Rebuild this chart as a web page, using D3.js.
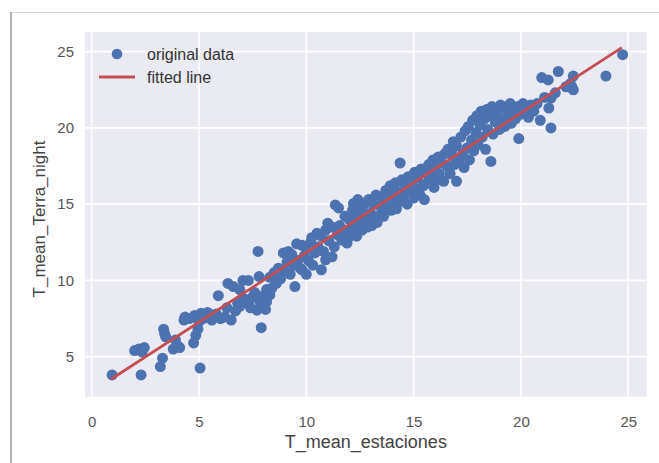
<!DOCTYPE html>
<html><head><meta charset="utf-8">
<script src="https://cdn.jsdelivr.net/npm/d3@7/dist/d3.min.js"></script>
<style>html,body{margin:0;padding:0;background:#fff;}svg{display:block;font-family:"Liberation Sans",Arial,sans-serif;}</style>
</head><body><svg id="c" width="659" height="463"></svg>
<script>
// ---- data ----
const xTicks = [0, 5, 10, 15, 20, 25];
const yTicks = [5, 10, 15, 20, 25];
const xLabel = "T_mean_estaciones";
const yLabel = "T_mean_Terra_night";
const legendLabels = ["original data", "fitted line"];
const fitX = [0.9, 24.7];
const fitY = [3.52, 25.27];
const ptsX = [
0.95,2.3,2.0,2.2,2.45,2.35,3.2,3.3,3.35,3.4,3.45,3.8,4.0,3.9,4.1,4.35,4.55,4.8,5.1,4.3,4.85,4.75,4.95,5.05,5.0,5.3,5.4,5.2,
5.6,5.9,6.0,6.2,6.5,6.35,6.6,6.9,6.8,7.05,6.9,7.3,7.5,7.8,8.0,8.15,7.7,7.3,7.8,7.75,7.9,8.15,8.3,8.1,7.1,7.6,6.3,6.7,5.8,8.4,8.5,8.3,7.4,8.0,
8.5,8.6,8.7,8.8,8.93,9.0,9.1,9.16,9.25,9.32,9.4,9.47,9.55,9.6,9.7,9.8,9.8,9.9,10.0,10.0,10.1,10.2,10.25,10.3,10.4,10.5,10.55,10.7,10.7,10.8,10.9,10.9,11.0,11.05,11.2,11.2,11.3,11.35,11.45,11.5,11.65,11.9,12.2,12.4,
11.55,11.7,11.8,11.9,12.0,12.05,12.15,12.2,12.3,12.35,12.45,12.5,
12.6,12.65,12.7,12.8,12.85,12.9,13.0,13.05,13.1,13.2,13.25,13.3,13.4,13.45,
13.55,13.6,13.7,13.75,13.8,13.9,13.95,14.0,14.1,14.15,14.2,14.3,14.37,14.4,14.45,
14.55,14.6,14.7,14.75,14.8,14.9,15.0,15.05,15.1,15.2,15.3,15.35,15.45,15.5,
15.6,15.65,15.7,15.8,15.9,15.95,16.0,16.1,16.15,16.2,16.3,16.4,16.45,
16.55,16.6,16.7,16.8,16.85,16.9,17.0,17.0,17.1,17.2,17.3,17.35,17.4,17.5,17.55,17.6,17.7,17.75,17.8,17.9,17.95,18.0,18.1,18.15,18.2,18.3,18.35,18.4,18.45,18.6,
18.55,18.65,18.7,18.8,18.9,19.0,19.05,19.15,19.25,19.3,19.4,19.5,19.55,19.65,19.75,19.9,19.85,20.0,20.1,20.2,20.35,20.45,20.6,20.75,20.9,
20.97,21.27,21.1,21.3,21.4,21.4,21.74,21.6,22.1,22.37,22.44,22.44,22.3,23.96,24.74
];
const ptsY = [
3.8,3.8,5.4,5.5,5.6,5.3,4.35,4.9,6.8,6.5,6.3,5.5,5.7,6.1,5.6,7.6,7.5,7.7,7.85,7.4,6.4,5.9,6.8,4.25,7.3,7.7,7.9,7.5,
7.4,9.0,7.5,7.6,7.4,9.8,9.6,9.4,8.5,10.0,8.3,8.5,8.9,8.7,8.3,8.6,8.05,10.0,10.25,11.9,6.9,9.4,9.05,8.1,8.8,9.2,8.2,8.0,7.8,9.5,10.5,10.2,8.2,9.0,
10.5,9.8,10.8,10.1,11.8,10.6,11.2,11.9,10.4,11.7,11.0,9.6,12.4,11.3,10.8,12.3,10.7,11.6,10.4,12.0,11.3,12.5,12.8,11.0,11.8,13.1,12.2,12.9,10.7,11.9,11.35,13.3,13.75,12.6,11.55,13.5,12.2,14.95,13.0,14.75,12.65,12.45,15.05,15.3,
13.6,12.9,14.2,13.3,14.0,12.9,14.6,13.5,14.2,12.9,14.9,13.8,
13.3,14.5,15.0,14.0,13.5,15.3,14.4,13.6,15.0,14.2,15.6,13.8,14.9,14.3,
15.4,14.2,15.9,14.8,15.3,16.2,14.6,15.6,15.1,16.4,14.7,15.8,17.7,15.2,16.6,
15.6,16.3,15.0,16.8,15.9,16.4,15.4,17.1,16.0,16.7,15.6,17.3,16.2,15.3,
17.0,16.4,17.6,16.8,17.9,16.1,17.3,16.6,18.1,17.0,17.7,16.5,18.3,
17.5,18.6,17.0,18.2,19.1,17.6,16.5,18.8,17.9,19.4,18.3,17.4,19.8,18.7,20.1,17.9,19.2,20.5,18.5,19.7,20.8,18.9,20.2,21.1,19.4,20.6,18.6,21.2,19.9,17.8,
20.8,21.4,19.6,20.4,21.0,19.9,21.5,20.6,20.1,21.3,20.8,21.6,20.3,21.1,20.6,19.3,21.4,20.9,21.6,21.2,20.7,21.5,21.1,21.6,20.5,
23.3,23.15,22.0,21.3,21.95,20.0,23.7,22.3,22.7,22.7,22.5,23.4,22.9,23.4,24.8
];
const points = ptsX.map((x, i) => ({x, y: ptsY[i]}));

// ---- layout ----
const svg = d3.select("#c");
const L = 85, T = 32, R = 646.7, B = 396.7;
const x = d3.scaleLinear().domain([-0.312, 25.86]).range([L, R]);
const y = d3.scaleLinear().domain([2.375, 26.29]).range([B, T]);

// frame of the screenshot
svg.append("line").attr("x1", 11).attr("x2", 659).attr("y1", 12.5).attr("y2", 12.5).attr("stroke", "#d4d4d4").attr("stroke-width", 1.2);
svg.append("line").attr("x1", 11).attr("x2", 11).attr("y1", 12).attr("y2", 463).attr("stroke", "#a8a8a8").attr("stroke-width", 1.8);

svg.append("rect").attr("x", L).attr("y", T).attr("width", R - L).attr("height", B - T).attr("fill", "#EAEAF2");

// grid
const g = svg.append("g");
g.selectAll(".vx").data(xTicks).enter().append("line")
  .attr("x1", d => x(d)).attr("x2", d => x(d)).attr("y1", T).attr("y2", B)
  .attr("stroke", "#fff").attr("stroke-width", 1.6);
g.selectAll(".hy").data(yTicks).enter().append("line")
  .attr("y1", d => y(d)).attr("y2", d => y(d)).attr("x1", L).attr("x2", R)
  .attr("stroke", "#fff").attr("stroke-width", 1.6);

// axes via d3 axis (no domain / tick lines)
const ax = svg.append("g").attr("transform", `translate(0,${B})`)
  .call(d3.axisBottom(x).tickValues(xTicks).tickSize(0).tickPadding(20));
ax.select(".domain").remove();
ax.selectAll("text").attr("font-size", 15).attr("fill", "#555").attr("font-family", "Liberation Sans, Arial, sans-serif");
const ay = svg.append("g").attr("transform", `translate(${L},0)`)
  .call(d3.axisLeft(y).tickValues(yTicks).tickSize(0).tickPadding(11));
ay.select(".domain").remove();
ay.selectAll("text").attr("font-size", 15).attr("fill", "#555").attr("font-family", "Liberation Sans, Arial, sans-serif");

// points
svg.append("g").selectAll("circle").data(points).enter().append("circle")
  .attr("cx", d => x(d.x)).attr("cy", d => y(d.y)).attr("r", 5.5)
  .attr("fill", "#4C72B0");

// fitted line
svg.append("line")
  .attr("x1", x(fitX[0])).attr("y1", y(fitY[0]))
  .attr("x2", x(fitX[1])).attr("y2", y(fitY[1]))
  .attr("stroke", "#C44E52").attr("stroke-width", 2.8);

// axis labels
svg.append("text").attr("x", (L + R) / 2).attr("y", 448).attr("text-anchor", "middle")
  .attr("font-size", 18).attr("fill", "#444").text(xLabel);
svg.append("text").attr("transform", `translate(45,219) rotate(-90)`).attr("text-anchor", "middle")
  .attr("font-size", 17).attr("fill", "#444").text(yLabel);

// legend
svg.append("circle").attr("cx", 117).attr("cy", 54).attr("r", 5.3).attr("fill", "#4C72B0");
svg.append("line").attr("x1", 99).attr("x2", 135).attr("y1", 77).attr("y2", 77).attr("stroke", "#C44E52").attr("stroke-width", 2.8);
svg.append("text").attr("x", 147).attr("y", 59.5).attr("font-size", 16).attr("fill", "#333").text(legendLabels[0]);
svg.append("text").attr("x", 147).attr("y", 83).attr("font-size", 16).attr("fill", "#333").text(legendLabels[1]);
</script></body></html>
